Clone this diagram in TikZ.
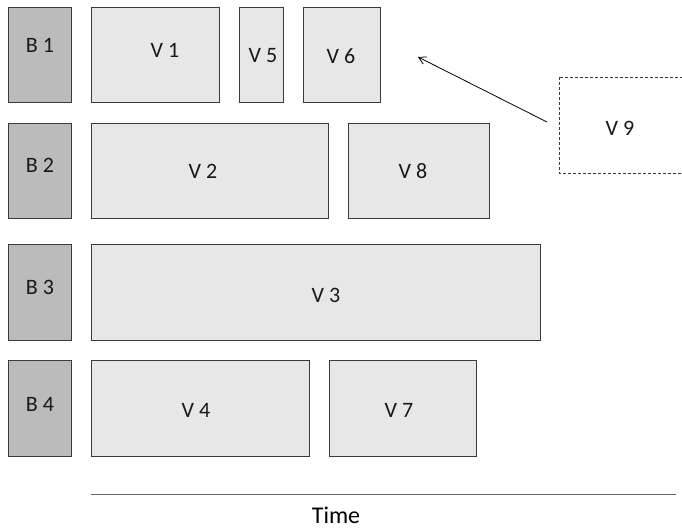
\documentclass[tikz,border=0pt]{standalone}
\usepackage{fontspec}
\setmainfont{Carlito}
\usetikzlibrary{arrows.meta}
\definecolor{boxfill}{HTML}{E7E7E7}
\definecolor{bfill}{HTML}{BBBBBB}
\definecolor{edge}{HTML}{3A3A3A}
\begin{document}
\begin{tikzpicture}[x=1pt,y=-1pt,
  slot/.style={draw=edge,line width=0.9pt,fill=boxfill},
  bslot/.style={draw=edge,line width=0.9pt,fill=bfill},
  lab/.style={font=\fontsize{22}{26}\selectfont,inner sep=0pt,text=black!90}]
\useasboundingbox (0,0) rectangle (682,527);
\clip (0,0) rectangle (682,527);
% B column
\foreach \n/\ya/\yb/\ly in {1/7/102/45, 2/123/218/165, 3/244/340/287, 4/360/456/404}{
  \draw[bslot] (8,\ya) rectangle (71,\yb);
  \node[lab] (b\n) at (40,\ly) {B \n};
}
% V boxes
\draw[slot] (91,7) rectangle (219,102);
\node[lab] (v1) at (165,50) {V 1};
\draw[slot] (239,7) rectangle (283,102);
\node[lab] (v5) at (263,56) {V 5};
\draw[slot] (303,7) rectangle (380,102);
\node[lab] (v6) at (341,56) {V 6};
\draw[slot] (91,123) rectangle (328,218);
\node[lab] (v2) at (203,171) {V 2};
\draw[slot] (348,123) rectangle (489,218);
\node[lab] (v8) at (413,171) {V 8};
\draw[slot] (91,244) rectangle (540,340);
\node[lab] (v3) at (326,295) {V 3};
\draw[slot] (91,360) rectangle (309,456);
\node[lab] (v4) at (196,410) {V 4};
\draw[slot] (329,360) rectangle (476,456);
\node[lab] (v7) at (399,410) {V 7};
% V9 dashed
\draw[draw=edge,line width=0.8pt,dash pattern=on 3pt off 2pt] (559,77) rectangle (700,173);
\node[lab] (v9) at (620,128) {V 9};
% arrow
\coordinate (as) at (547,122);
\coordinate (ae) at (418,57);
\draw[line width=0.8pt,-{Straight Barb[length=7pt,width=8pt]}] (as) -- (ae);
% time axis
\coordinate (t1) at (91,494);
\coordinate (t2) at (676,494);
\draw[draw=black!60,line width=1pt] (t1) -- (t2);
\node[font=\fontsize{24}{28}\selectfont,inner sep=0pt] (time) at (336,515) {Time};
\end{tikzpicture}
\end{document}
